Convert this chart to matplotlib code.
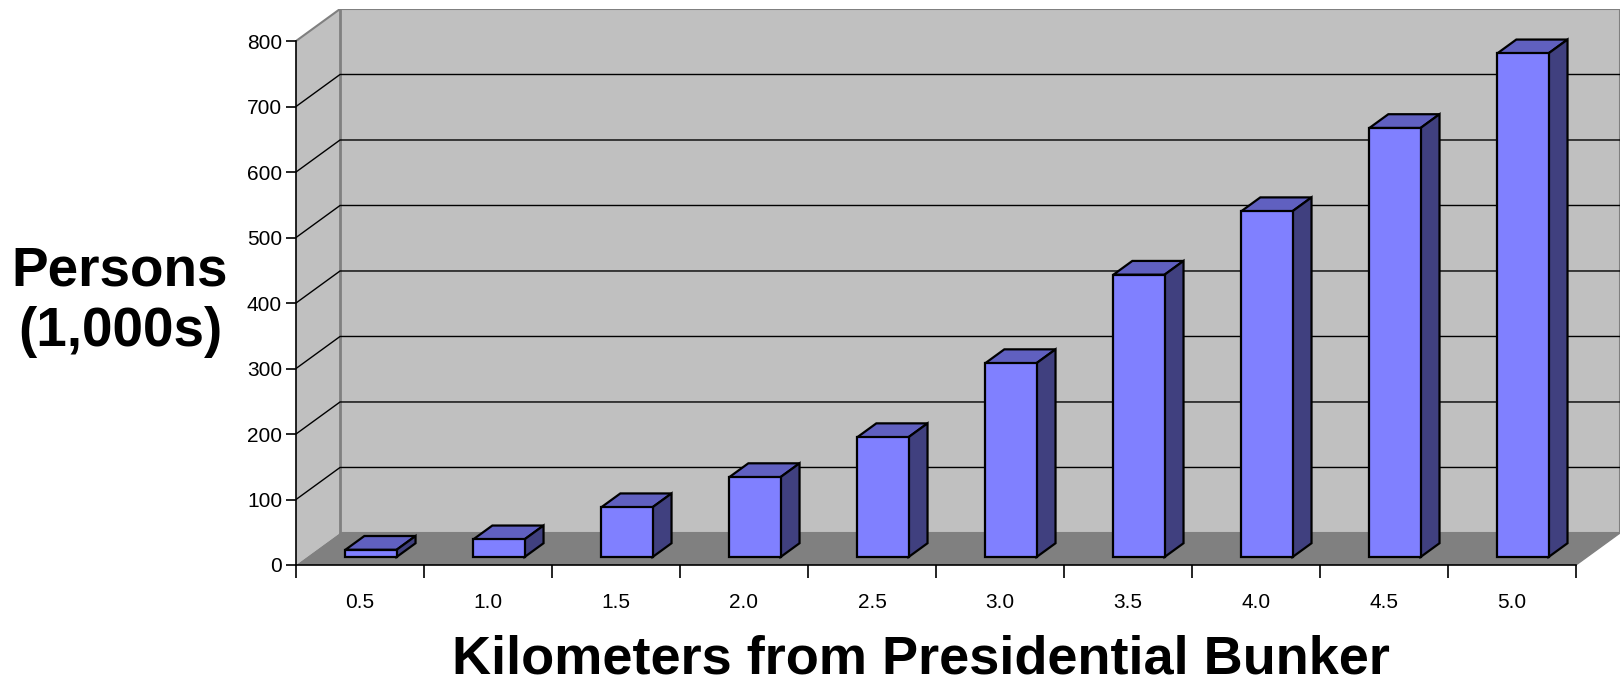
import matplotlib
matplotlib.use("Agg")
import matplotlib.pyplot as plt
from matplotlib.patches import Polygon, Rectangle
import numpy as np

plt.rcParams['font.family'] = ['Liberation Sans', 'DejaVu Sans']

# data
km_labels = ['0.5', '1.0', '1.5', '2.0', '2.5', '3.0', '3.5', '4.0', '4.5', '5.0']
persons = [11, 27, 76, 122, 183, 296, 431, 528, 655, 769]
y_ticks = [0, 100, 200, 300, 400, 500, 600, 700, 800]

# pseudo 3d settings (depth shift in data units)
DX = 0.344
DY = 48.9
YMAX = 800
n = len(persons)
W = 0.4
Z0, Z1 = 0.25, 0.68

front_c = '#8080ff'
top_c = '#6060c0'
side_c = '#40407f'


def P(x, y, z):
    return (x + z * DX, y + z * DY)


fig = plt.figure(figsize=(16.23, 6.83), dpi=100)
ax = fig.add_axes([296 / 1623, 118 / 683, 1324 / 1623, 556 / 683])
ax.set_xlim(0, n + DX)
ax.set_ylim(0, YMAX + DY)

# walls and floor
ax.add_patch(Rectangle(P(0, 0, 1), n, YMAX, facecolor='#c0c0c0', edgecolor='#808080', lw=1.5, zorder=0))
ax.add_patch(Polygon([P(0, 0, 0), P(0, YMAX, 0), P(0, YMAX, 1), P(0, 0, 1)],
                     closed=True, facecolor='#c0c0c0', edgecolor='none', zorder=0))
ax.plot([P(0, YMAX, 0)[0], P(0, YMAX, 1)[0]], [P(0, YMAX, 0)[1], P(0, YMAX, 1)[1]], color='#808080', lw=1.5, zorder=1)
ax.plot([P(0, 0, 1)[0], P(0, YMAX, 1)[0]], [P(0, 0, 1)[1], P(0, YMAX, 1)[1]], color='#808080', lw=2, zorder=1)
ax.add_patch(Polygon([P(0, 0, 0), P(n, 0, 0), P(n, 0, 1), P(0, 0, 1)],
                     closed=True, facecolor='#808080', edgecolor='none', zorder=1))
ax.plot([P(n, 0, 0)[0], P(n, 0, 1)[0]], [P(n, 0, 0)[1], P(n, 0, 1)[1]], color='#808080', lw=1, zorder=1)

# gridlines on back wall + left wall
for g in y_ticks[1:-1]:
    a, b, c = P(0, g, 0), P(0, g, 1), P(n, g, 1)
    ax.plot([a[0], b[0], c[0]], [a[1], b[1], c[1]], color='black', lw=1, zorder=1)

# bars: front face via ax.bar, top and side as polygons
xs = np.arange(n) + 0.5
ax.bar(xs + Z0 * DX, persons, width=W, bottom=Z0 * DY, color=front_c,
       edgecolor='black', linewidth=1.6, zorder=3)
for x, v in zip(xs, persons):
    xl, xr = x - W / 2, x + W / 2
    top = [P(xl, v, Z0), P(xr, v, Z0), P(xr, v, Z1), P(xl, v, Z1)]
    side = [P(xr, 0, Z0), P(xr, v, Z0), P(xr, v, Z1), P(xr, 0, Z1)]
    ax.add_patch(Polygon(top, closed=True, facecolor=top_c, edgecolor='black', lw=1.6, zorder=2))
    ax.add_patch(Polygon(side, closed=True, facecolor=side_c, edgecolor='black', lw=1.6, zorder=2))

# axes lines/ticks
for s in ['top', 'right']:
    ax.spines[s].set_visible(False)
ax.spines['left'].set_bounds(0, YMAX)
ax.spines['bottom'].set_bounds(0, n)
ax.spines['left'].set_linewidth(1.2)
ax.spines['bottom'].set_linewidth(1.2)
ax.spines['left'].set_zorder(4)
ax.spines['bottom'].set_zorder(4)
ax.set_yticks(y_ticks)
ax.set_yticklabels([str(t) for t in y_ticks], fontsize=15)
ax.set_xticks(np.arange(n + 1), minor=True)
ax.set_xticks(xs)
ax.set_xticklabels(km_labels, fontsize=15)
ax.tick_params(axis='y', direction='out', length=7, width=1.2, pad=3)
ax.tick_params(axis='x', which='major', length=0, pad=20)
ax.tick_params(axis='x', which='minor', direction='out', length=9, width=1.2)

fig.text(120 / 1623, 1 - 302 / 683, 'Persons\n(1,000s)', ha='center', va='center',
         fontsize=39.5, fontweight='bold', linespacing=1.2)
fig.text(921 / 1623, 1 - 659 / 683, 'Kilometers from Presidential Bunker', ha='center', va='center',
         fontsize=39, fontweight='bold')

plt.savefig('out.png', dpi=100)
plt.close()
